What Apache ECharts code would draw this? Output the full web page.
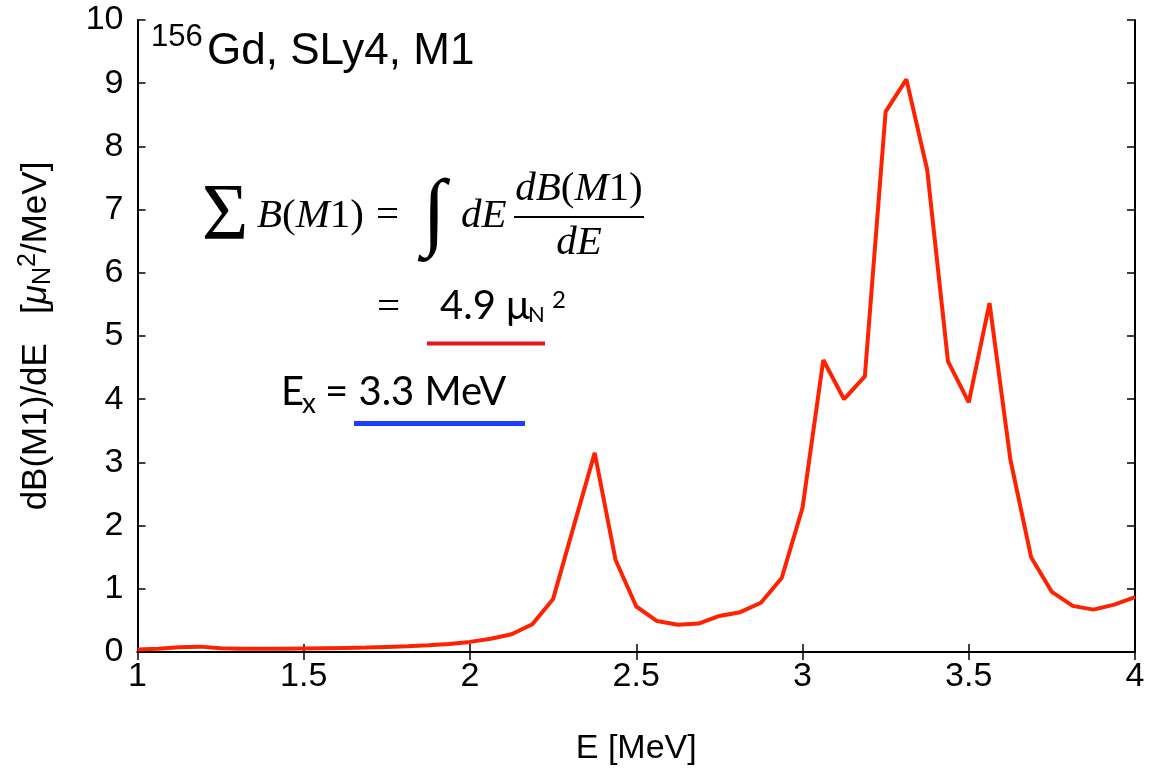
<!DOCTYPE html>
<html>
<head>
<meta charset="utf-8">
<title>156Gd SLy4 M1 strength</title>
<script src="https://cdn.jsdelivr.net/npm/echarts@6/dist/echarts.min.js"></script>
<style>
  html, body { margin: 0; padding: 0; background: #fff; }
  #chart { width: 1150px; height: 773px; }
</style>
</head>
<body>
<div id="chart"></div>
<script>
// excitation energy grid (MeV)
var energies = [
  1.0, 1.0625, 1.125, 1.1875, 1.25, 1.3125, 1.375, 1.4375,
  1.5, 1.5625, 1.625, 1.6875, 1.75, 1.8125, 1.875, 1.9375,
  2.0, 2.0625, 2.125, 2.1875, 2.25, 2.3125, 2.375, 2.4375,
  2.5, 2.5625, 2.625, 2.6875, 2.75, 2.8125, 2.875, 2.9375,
  3.0, 3.0625, 3.125, 3.1875, 3.25, 3.3125, 3.375, 3.4375,
  3.5, 3.5625, 3.625, 3.6875, 3.75, 3.8125, 3.875, 3.9375,
  4.0
]
// dB(M1)/dE  [muN^2/MeV]
var strength = [
  0.04, 0.05, 0.075, 0.085, 0.06, 0.05, 0.05, 0.05,
  0.055, 0.06, 0.065, 0.07, 0.08, 0.09, 0.105, 0.125,
  0.16, 0.21, 0.28, 0.44, 0.84, 2.0, 3.15, 1.46,
  0.72, 0.49, 0.43, 0.45, 0.57, 0.63, 0.78, 1.17,
  2.28, 4.62, 4.0, 4.36, 8.55, 9.06, 7.63, 4.6,
  3.95, 5.52, 3.05, 1.5, 0.95, 0.73, 0.67, 0.75,
  0.87
]
var xTicks = [1, 4, 0.5]   // min, max, step
var yTicks = [0, 10, 1]

var chart = echarts.init(document.getElementById('chart'))

var axisLine = { show: true, lineStyle: { color: '#000', width: 2 } }
var tick = { show: true, inside: true, length: 8, lineStyle: { color: '#000', width: 1.5 } }
var labelFont = { color: '#000', fontSize: 34, fontFamily: 'Liberation Sans' }

function txt(x, y, text, font, align, extra) {
  var st = { text: text, font: font, fill: '#000', textAlign: align || 'left', textVerticalAlign: 'middle' }
  return Object.assign({ type: 'text', x: x, y: y, z: 10, style: st }, extra || {})
}

var serif = 'Liberation Serif'
var sans = 'Liberation Sans'

chart.setOption({
  animation: false,
  backgroundColor: '#fff',
  grid: { left: 137.5, right: 15, top: 20, bottom: 121 },
  xAxis: [
    {
      type: 'value', min: xTicks[0], max: xTicks[1], interval: xTicks[2], position: 'bottom',
      axisLine: axisLine, axisTick: tick, splitLine: { show: false },
      axisLabel: Object.assign({ margin: 8 }, labelFont),
      name: 'E [MeV]', nameLocation: 'middle', nameGap: 80,
      nameTextStyle: { color: '#000', fontSize: 34, fontFamily: sans }
    },
    {
      type: 'value', min: xTicks[0], max: xTicks[1], interval: xTicks[2], position: 'top',
      axisLine: axisLine, axisTick: tick, splitLine: { show: false }, axisLabel: { show: false }
    }
  ],
  yAxis: [
    {
      type: 'value', min: yTicks[0], max: yTicks[1], interval: yTicks[2], position: 'left',
      axisLine: axisLine, axisTick: tick, splitLine: { show: false },
      axisLabel: Object.assign({ margin: 14 }, labelFont)
    },
    {
      type: 'value', min: yTicks[0], max: yTicks[1], interval: yTicks[2], position: 'right',
      axisLine: axisLine, axisTick: tick, splitLine: { show: false }, axisLabel: { show: false }
    }
  ],
  series: [{
    type: 'line',
    xAxisIndex: 0, yAxisIndex: 0,
    symbol: 'none',
    lineStyle: { color: '#ff2200', width: 4 },
    data: energies.map(function (e, i) { return [e, strength[i]] })
  }],
  graphic: [
    // y axis title
    {
      type: 'text', x: 36, y: 336, rotation: Math.PI / 2, z: 10,
      style: {
        text: '{a|dB(M1)/dE   [}{mu|\u03bc}{sub|N}{sup|2}{a|/MeV]}',
        textAlign: 'center', textVerticalAlign: 'middle',
        rich: {
          a: { fontSize: 35, fontFamily: sans, color: '#000', lineHeight: 40 },
          mu: { fontSize: 35, fontFamily: sans, fontStyle: 'italic', color: '#000', lineHeight: 40 },
          sub: { fontSize: 25, fontFamily: sans, color: '#000', verticalAlign: 'bottom', lineHeight: 24 },
          sup: { fontSize: 25, fontFamily: sans, color: '#000', verticalAlign: 'top', lineHeight: 24 }
        }
      }
    },
    // panel label
    txt(151, 37, '156', '31px ' + sans),
    txt(207, 52, 'Gd, SLy4, M1', '44px ' + sans),
    // sum rule formula
    txt(225, 218, '\u03a3', '80px ' + serif, 'center'),
    {
      type: 'text', x: 257, y: 216, z: 10,
      style: {
        text: '{i|B}{n|(}{i|M}{n|1)}', textVerticalAlign: 'middle',
        rich: {
          i: { fontSize: 41, fontFamily: serif, fontStyle: 'italic', color: '#000' },
          n: { fontSize: 41, fontFamily: serif, color: '#000' }
        }
      }
    },
    txt(376, 216, '=', '41px ' + serif),
    txt(434, 216, '\u222b', 'italic 86px ' + serif, 'center'),
    txt(461, 216, 'dE', 'italic 41px ' + serif),
    {
      type: 'text', x: 579, y: 189, z: 10,
      style: {
        text: '{i|dB}{n|(}{i|M}{n|1)}', textAlign: 'center', textVerticalAlign: 'middle',
        rich: {
          i: { fontSize: 41, fontFamily: serif, fontStyle: 'italic', color: '#000' },
          n: { fontSize: 41, fontFamily: serif, color: '#000' }
        }
      }
    },
    { type: 'line', z: 10, shape: { x1: 514, y1: 217, x2: 644, y2: 217 }, style: { stroke: '#000', lineWidth: 2 } },
    txt(579, 243, 'dE', 'italic 41px ' + serif, 'center'),
    // total strength
    txt(377, 308, '=', '41px ' + serif),
    txt(440, 306, '4.9 \u03bc', '40px Lato'),
    txt(528, 315, 'N', '22px Lato'),
    txt(552, 300, '2', '24px Lato'),
    { type: 'line', z: 10, shape: { x1: 427, y1: 343.5, x2: 545, y2: 343.5 }, style: { stroke: '#e8141e', lineWidth: 4 } },
    // centroid energy
    txt(281, 392, 'E', '40px Lato'),
    txt(302, 404, 'x', '28px Lato'),
    txt(325, 392, '= 3.3 MeV', '40px Lato'),
    { type: 'line', z: 10, shape: { x1: 354, y1: 423.5, x2: 525, y2: 423.5 }, style: { stroke: '#1f3cff', lineWidth: 5 } }
  ]
})
</script>
</body>
</html>
